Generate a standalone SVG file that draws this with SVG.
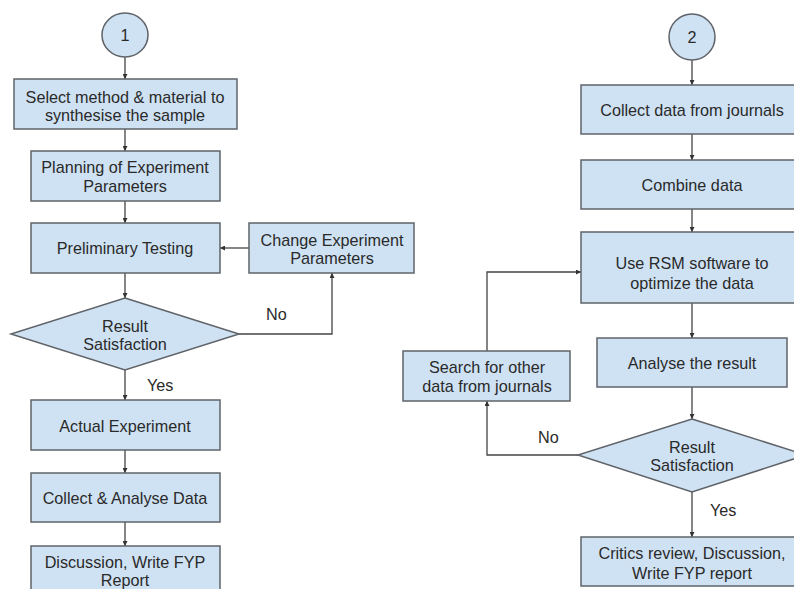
<svg xmlns="http://www.w3.org/2000/svg" width="794" height="589" viewBox="0 0 794 589">
<defs>
<style>
.n{fill:#cfe2f3;stroke:#5f6368;stroke-width:1.5}
.t{font-family:"Liberation Sans",Arial,sans-serif;font-size:16.2px;fill:#2a2a2a;text-anchor:middle;dominant-baseline:central}
.c{fill:none;stroke:#444;stroke-width:1.3}
.l{font-family:"Liberation Sans",Arial,sans-serif;font-size:16.2px;fill:#2a2a2a;dominant-baseline:central}
</style>
<marker id="a" viewBox="0 0 10 10" refX="10" refY="5" markerWidth="5" markerHeight="5" orient="auto" markerUnits="userSpaceOnUse">
<path d="M0,0L10,5L0,10z" fill="#333"/>
</marker>
</defs>
<rect width="794" height="589" fill="#fff"/>
<g id="connectors">
<path class="c" d="M125,57V79" marker-end="url(#a)"/>
<path class="c" d="M125,129V151" marker-end="url(#a)"/>
<path class="c" d="M125,201V223" marker-end="url(#a)"/>
<path class="c" d="M249,248H220" marker-end="url(#a)"/>
<path class="c" d="M125,273V298" marker-end="url(#a)"/>
<path class="c" d="M239,334H332V273" marker-end="url(#a)"/>
<path class="c" d="M125,370V400" marker-end="url(#a)"/>
<path class="c" d="M125,450V473" marker-end="url(#a)"/>
<path class="c" d="M125,522V546" marker-end="url(#a)"/>
<path class="c" d="M692,60V85" marker-end="url(#a)"/>
<path class="c" d="M692,134V160" marker-end="url(#a)"/>
<path class="c" d="M692,209V232" marker-end="url(#a)"/>
<path class="c" d="M692,303V338" marker-end="url(#a)"/>
<path class="c" d="M692,387V419" marker-end="url(#a)"/>
<path class="c" d="M578,455H487V401" marker-end="url(#a)"/>
<path class="c" d="M487,351V272H581" marker-end="url(#a)"/>
<path class="c" d="M692,492V537" marker-end="url(#a)"/>
<text class="l" x="266" y="314">No</text>
<text class="l" x="147" y="385">Yes</text>
<text class="l" x="538" y="437">No</text>
<text class="l" x="710" y="510">Yes</text>
</g>
<g id="start1"><ellipse class="n" cx="125" cy="35" rx="23" ry="22"/><text class="t" x="125" y="35">1</text></g>
<g id="select"><rect class="n" x="14" y="79" width="223" height="50"/><text class="t" x="125" y="97">Select method &amp; material to</text><text class="t" x="125" y="115">synthesise the sample</text></g>
<g id="planning"><rect class="n" x="31" y="151" width="189" height="50"/><text class="t" x="125" y="167">Planning of Experiment</text><text class="t" x="125" y="186">Parameters</text></g>
<g id="prelim"><rect class="n" x="31" y="223" width="189" height="50"/><text class="t" x="125" y="248">Preliminary Testing</text></g>
<g id="change"><rect class="n" x="249" y="223" width="165" height="50"/><text class="t" x="332" y="240">Change Experiment</text><text class="t" x="332" y="258">Parameters</text></g>
<g id="decision1"><polygon class="n" points="125,298 239,334 125,370 11,334"/><text class="t" x="125" y="326">Result</text><text class="t" x="125" y="344">Satisfaction</text></g>
<g id="actual"><rect class="n" x="31" y="400" width="189" height="50"/><text class="t" x="125" y="426">Actual Experiment</text></g>
<g id="collect1"><rect class="n" x="31" y="473" width="189" height="49"/><text class="t" x="125" y="498">Collect &amp; Analyse Data</text></g>
<g id="discussion1"><rect class="n" x="31" y="546" width="189" height="50"/><text class="t" x="125" y="562">Discussion, Write FYP</text><text class="t" x="125" y="580">Report</text></g>
<g id="start2"><ellipse class="n" cx="692" cy="37" rx="23" ry="23"/><text class="t" x="692" y="37">2</text></g>
<g id="collect2"><rect class="n" x="581" y="85" width="222" height="49"/><text class="t" x="692" y="110">Collect data from journals</text></g>
<g id="combine"><rect class="n" x="581" y="160" width="222" height="49"/><text class="t" x="692" y="185">Combine data</text></g>
<g id="rsm"><rect class="n" x="581" y="232" width="222" height="71"/><text class="t" x="692" y="263">Use RSM software to</text><text class="t" x="692" y="283">optimize the data</text></g>
<g id="analyse"><rect class="n" x="597" y="338" width="190" height="49"/><text class="t" x="692" y="363">Analyse the result</text></g>
<g id="search"><rect class="n" x="403" y="351" width="167" height="50"/><text class="t" x="487" y="367">Search for other</text><text class="t" x="487" y="386">data from journals</text></g>
<g id="decision2"><polygon class="n" points="692,419 806,455 692,492 578,455"/><text class="t" x="692" y="447">Result</text><text class="t" x="692" y="465">Satisfaction</text></g>
<g id="final2"><rect class="n" x="581" y="537" width="222" height="49"/><text class="t" x="692" y="553">Critics review, Discussion,</text><text class="t" x="692" y="573">Write FYP report</text></g>
</svg>
